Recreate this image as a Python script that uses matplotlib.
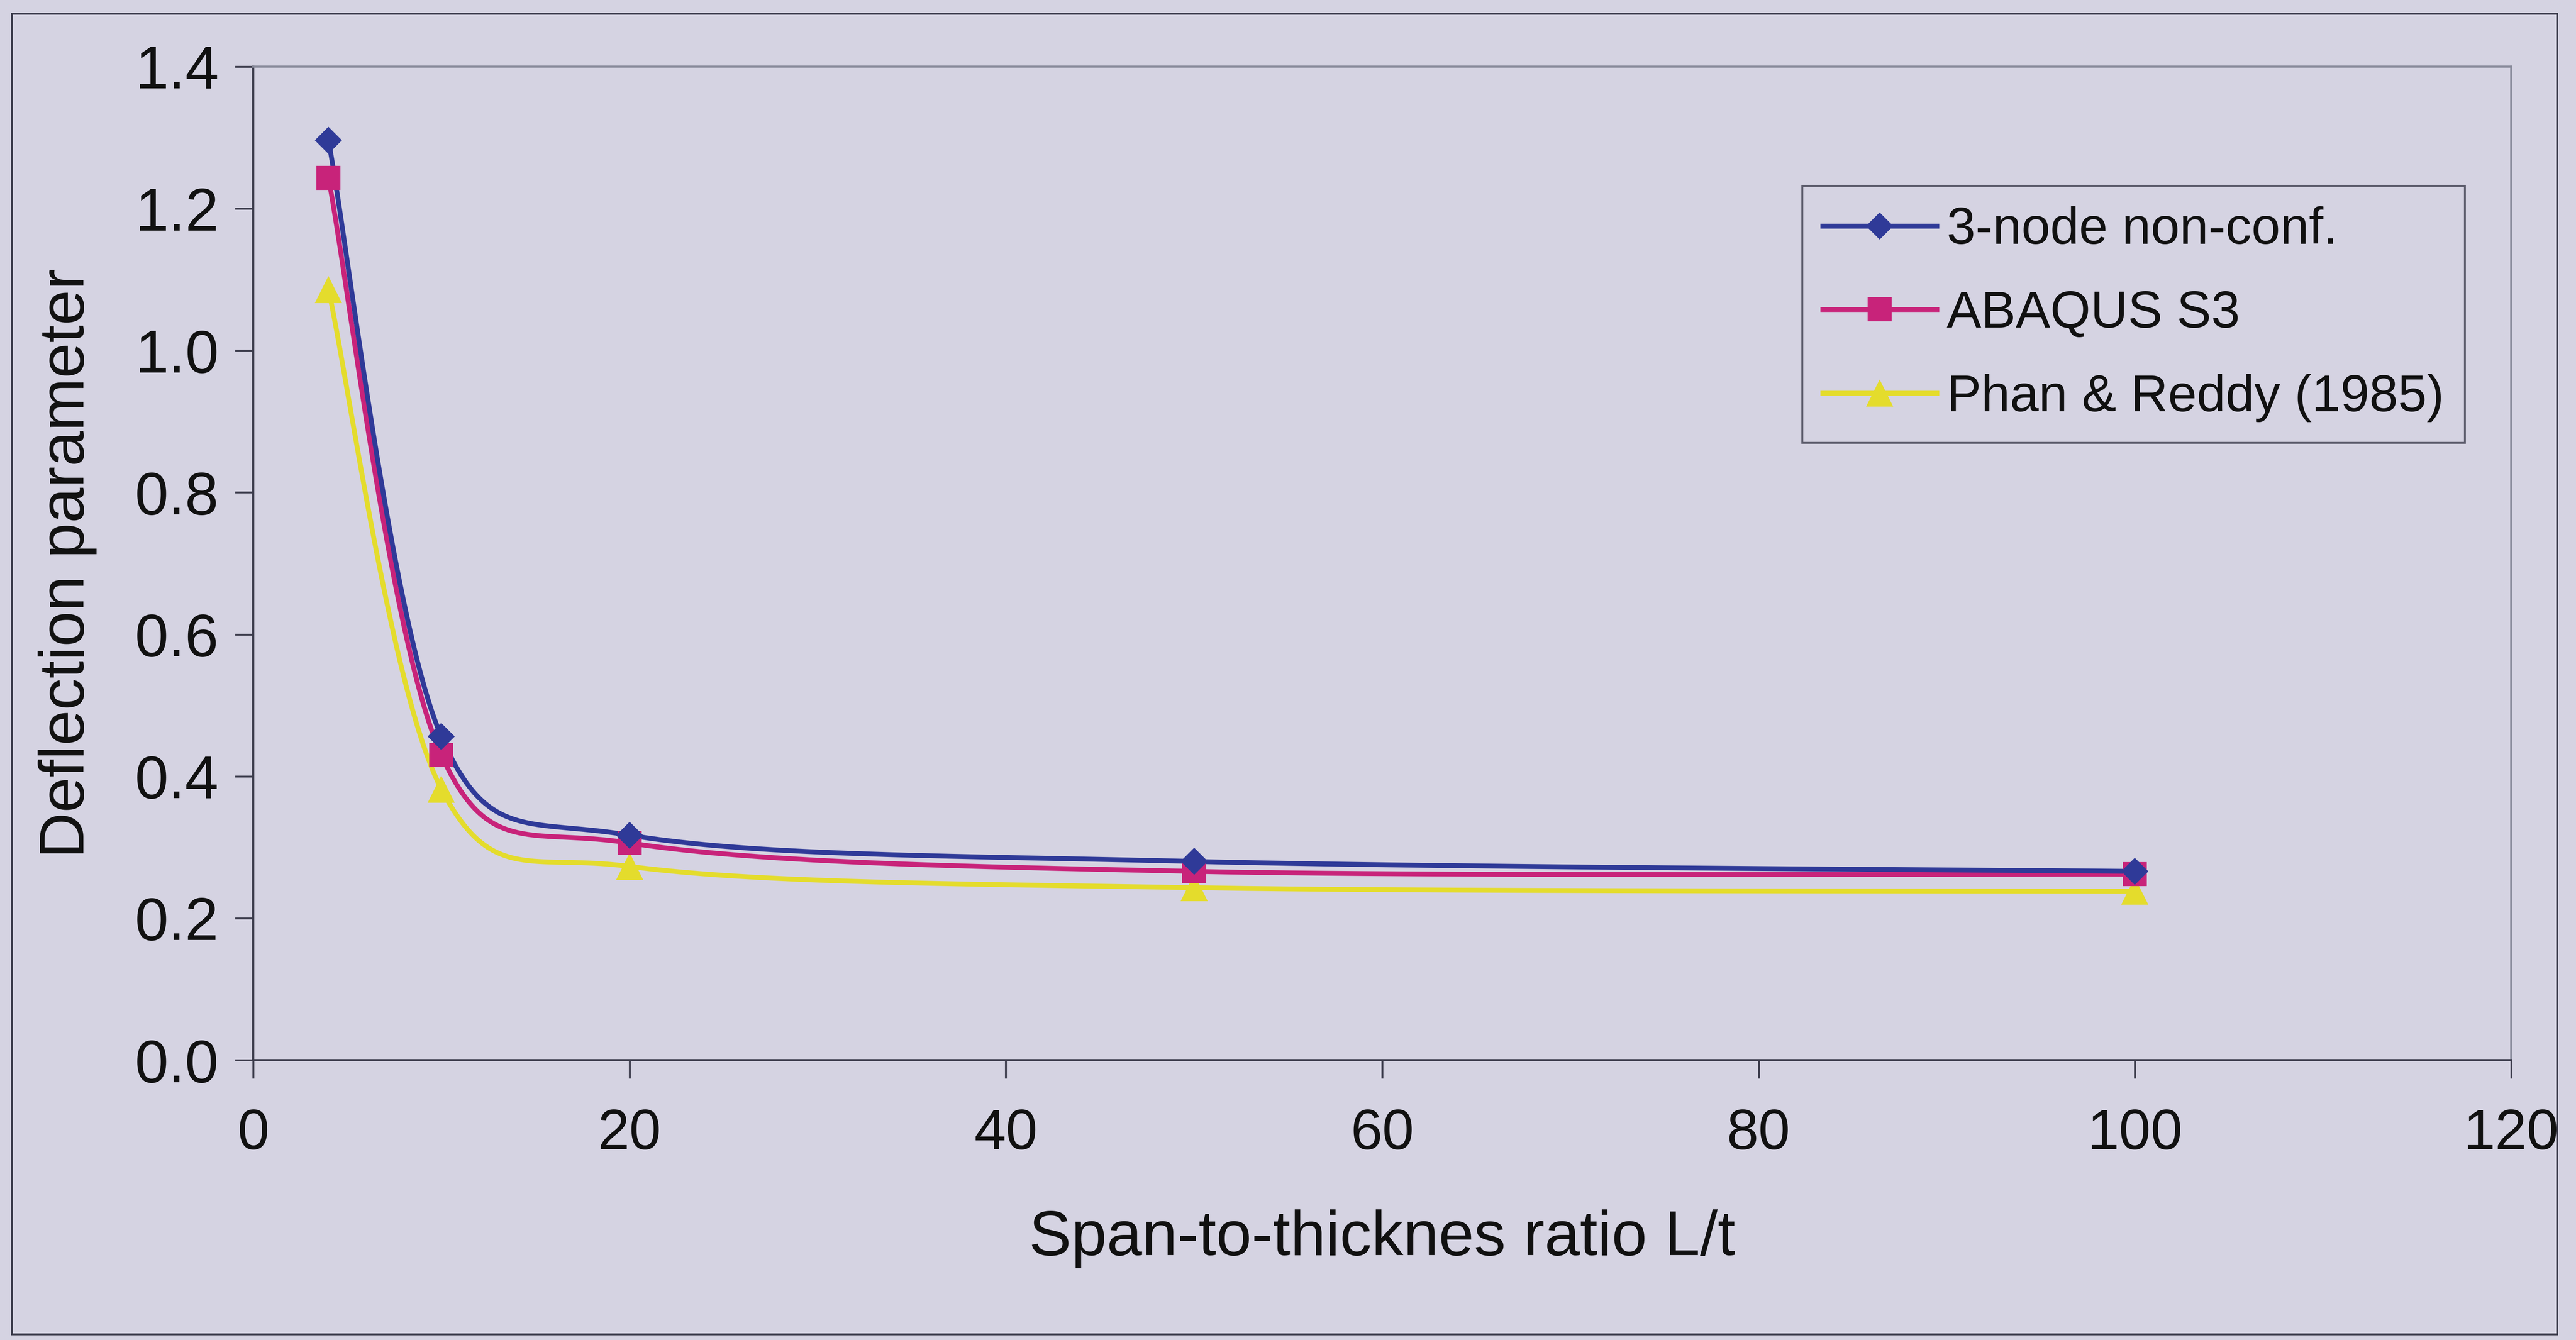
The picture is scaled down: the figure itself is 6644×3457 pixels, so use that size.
import numpy as np
import matplotlib
matplotlib.use("Agg")
import matplotlib.pyplot as plt
from matplotlib.patches import Rectangle
from matplotlib.lines import Line2D

plt.rcParams['font.family'] = ['Liberation Sans', 'DejaVu Sans']

# Span-to-thickness ratios and the deflection parameter of each solution
span_ratio = [4, 10, 20, 50, 100]
nonconf_3node = [1.296, 0.456, 0.317, 0.280, 0.266]
abaqus_s3 = [1.243, 0.430, 0.306, 0.266, 0.262]
phan_reddy = [1.086, 0.382, 0.273, 0.243, 0.238]

series_names = ["3-node non-conf.", "ABAQUS S3", "Phan & Reddy (1985)"]
x_ticks = [0, 20, 40, 60, 80, 100, 120]
y_ticks = [0.0, 0.2, 0.4, 0.6, 0.8, 1.0, 1.2, 1.4]

W, H = 6644, 3457
DPI = 100
bg = "#d5d3e2"
axis_col = "#3c3c4c"
frame_col = "#8a8c9c"

fig = plt.figure(figsize=(W / DPI, H / DPI), dpi=DPI, facecolor=bg)

# outer chart border
fig.patches.append(Rectangle((30 / W, 1 - 3442 / H), (6595 - 30) / W, (3442 - 35) / H,
                             transform=fig.transFigure, fill=False,
                             edgecolor=axis_col, linewidth=3.5))

x0, x1, y0, y1 = 653, 6477, 172, 2735
ax = fig.add_axes([x0 / W, 1 - y1 / H, (x1 - x0) / W, (y1 - y0) / H])
ax.set_facecolor(bg)
ax.set_xlim(0, 120)
ax.set_ylim(0, 1.4)
ax.set_xticks(x_ticks)
ax.set_yticks(y_ticks)
ax.set_xticklabels([str(v) for v in x_ticks])
ax.set_yticklabels([f"{v:.1f}" for v in y_ticks])
ax.tick_params(axis='both', direction='out', length=34, width=3.5, color=axis_col,
               labelcolor="#111111")
ax.tick_params(axis='y', pad=30, labelsize=112)
ax.tick_params(axis='x', pad=55, labelsize=106)
for side in ['left', 'bottom']:
    ax.spines[side].set_color(axis_col)
    ax.spines[side].set_linewidth(4)
for side in ['top', 'right']:
    ax.spines[side].set_color(frame_col)
    ax.spines[side].set_linewidth(4)

ax.set_xlabel("Span-to-thicknes ratio L/t", fontsize=118, color="#111111", labelpad=90)
ax.set_ylabel("Deflection parameter", fontsize=118, color="#111111", labelpad=70)


def smooth(xs, ys, n=80, xstretch=1.15):
    """Spreadsheet-style Bezier smoothing: tension 1/6, control arms capped at half a segment."""
    px = np.asarray(xs, float) / 120.0 * (x1 - x0) * xstretch
    py = np.asarray(ys, float) / 1.4 * (y1 - y0)
    P = np.column_stack([px, py])
    m = len(P)
    out = [P[0]]
    for i in range(m - 1):
        p0 = P[i - 1] if i > 0 else P[i]
        p1, p2 = P[i], P[i + 1]
        p3 = P[i + 2] if i + 2 < m else P[i + 1]
        d12 = np.linalg.norm(p2 - p1)
        d02 = np.linalg.norm(p2 - p0)
        d13 = np.linalg.norm(p3 - p1)
        f1 = 1 / 6 if d02 / 6 < d12 / 2 else d12 / (2 * d02)
        f2 = 1 / 6 if d13 / 6 < d12 / 2 else d12 / (2 * d13)
        c1 = p1 + f1 * (p2 - p0)
        c2 = p2 - f2 * (p3 - p1)
        t = np.linspace(0, 1, n)[1:, None]
        seg = ((1 - t) ** 3) * p1 + 3 * ((1 - t) ** 2) * t * c1 + 3 * (1 - t) * t ** 2 * c2 + t ** 3 * p2
        out.extend(seg)
    out = np.array(out)
    return out[:, 0] / xstretch / (x1 - x0) * 120.0, out[:, 1] / (y1 - y0) * 1.4


styles = [
    (nonconf_3node, "#2f3a98", "D", 36),
    (abaqus_s3, "#c8237a", "s", 44),
    (phan_reddy, "#e4dc2c", "^", 50),
]

handles = []
for (vals, col, mk, ms), name in zip(styles[::-1], series_names[::-1]):
    sx, sy = smooth(span_ratio, vals)
    ax.plot(sx, sy, color=col, linewidth=9, solid_capstyle='round', zorder=3)
    ax.plot(span_ratio, vals, linestyle='none', marker=mk, markersize=ms,
            color=col, markeredgewidth=0, zorder=4)

for (vals, col, mk, ms), name in zip(styles, series_names):
    handles.append(Line2D([], [], color=col, linewidth=9, marker=mk,
                          markersize=ms, markeredgewidth=0, label=name))

leg = ax.legend(handles=handles, loc='upper left',
                bbox_to_anchor=((4648 - x0) / (x1 - x0), 1 - (479 - y0) / (y1 - y0)),
                fontsize=96, frameon=True, fancybox=False, handlelength=2.2,
                handletextpad=0.2, labelspacing=0.68, borderpad=0.4,
                borderaxespad=0)
leg.get_frame().set_facecolor(bg)
leg.get_frame().set_edgecolor(axis_col)
leg.get_frame().set_linewidth(3.5)
for t in leg.get_texts():
    t.set_color("#111111")

fig.savefig("out.png", dpi=DPI, facecolor=bg)
